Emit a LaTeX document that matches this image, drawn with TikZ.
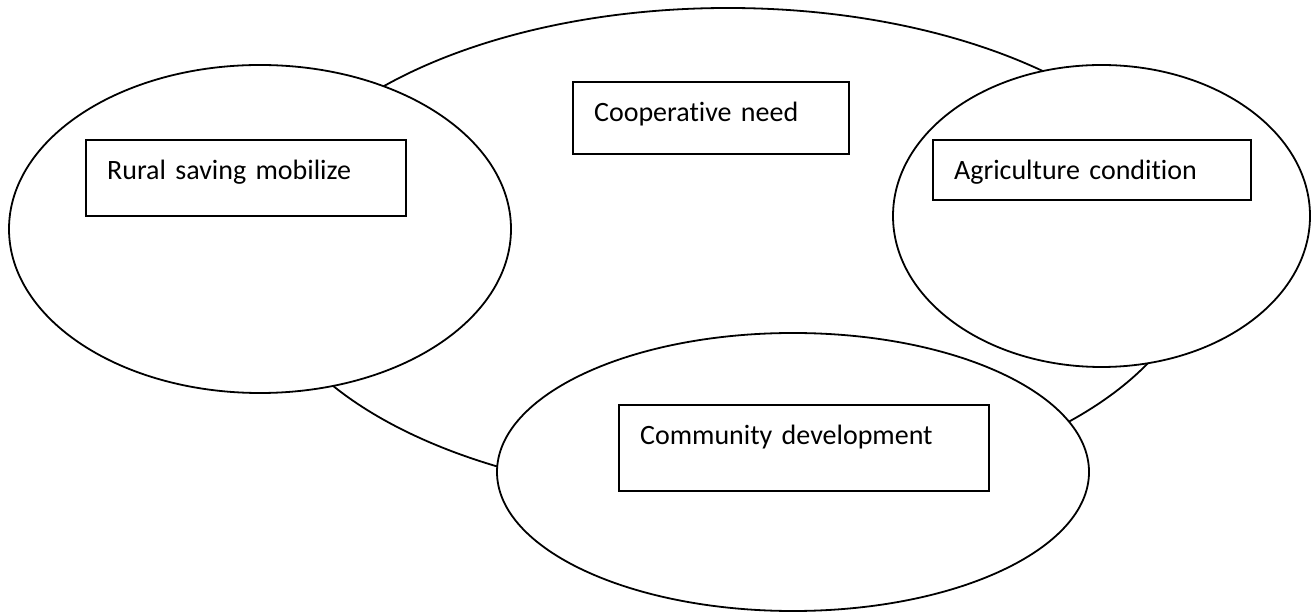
\documentclass[tikz,border=0pt]{standalone}
\usepackage{fontspec}
\setmainfont{Carlito}[Ligatures=NoCommon]
\usetikzlibrary{shapes.geometric}

\begin{document}
\begin{tikzpicture}[
  x=0.5pt, y=-0.5pt,
  font=\fontsize{14}{17}\selectfont,
  oval/.style  = {ellipse, draw, line width=0.9pt, inner sep=0pt},
  topic/.style = {oval, fill=white},
  tbox/.style  = {rectangle, draw, line width=1.1pt, anchor=north west,
                  align=left, inner xsep=10.5pt, inner ysep=0pt,
                  text height=19.5pt}]

\useasboundingbox (0,0) rectangle (1315,613);

% ---- big ellipse in the back ---------------------------------------------
\node[oval, minimum width=470pt, minimum height=245pt] (need) at (728,253) {};

% ---- the three smaller ellipses, filled white so they cover the big one ---
\node[topic, minimum width=251pt, minimum height=164pt] (rural) at (260,229) {};
\node[topic, minimum width=208.5pt, minimum height=151pt] (agri) at (1101.5,216) {};
\node[topic, minimum width=296pt, minimum height=139pt] (comm) at (793,472) {};

% ---- text boxes ------------------------------------------------------------
\node[tbox, text width=117pt, text depth=16.5pt] (needbox) at (572,81)
  {Cooperative need};
\node[tbox, text width=139pt, text depth=18.5pt] (ruralbox) at (85,139)
  {Rural saving mobilize};
\node[tbox, text width=138pt, text depth=10.5pt] (agribox) at (932,139)
  {Agriculture condition};
\node[tbox, text width=164pt, text depth=23.5pt] (commbox) at (618,404)
  {Community development};

\end{tikzpicture}
\end{document}
